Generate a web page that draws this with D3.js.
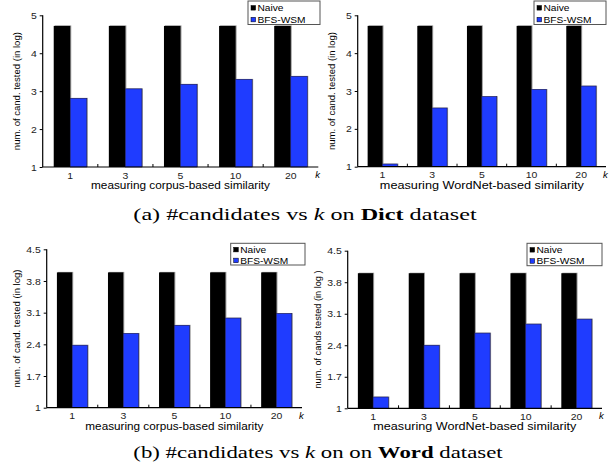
<!DOCTYPE html>
<html>
<head>
<meta charset="utf-8">
<script src="https://cdn.jsdelivr.net/npm/d3@7"></script>
<style>
  body { margin: 0; background: #fff; }
  svg { display: block; }
</style>
</head>
<body>
<div id="svg"></div>
<script>
// k values on the x axis
const kLabels = ['1', '3', '5', '10', '20']
const seriesNames = ['Naive', 'BFS-WSM']

// Dict dataset (log of number of candidates tested)
const dictCorpusNaive = [4.72, 4.72, 4.72, 4.72, 4.72]
const dictCorpusBfs = [2.81, 3.06, 3.18, 3.31, 3.39]
const dictWordnetNaive = [4.72, 4.72, 4.72, 4.72, 4.72]
const dictWordnetBfs = [1.07, 2.55, 2.85, 3.04, 3.13]

// Word dataset
const wordCorpusNaive = [3.99, 3.99, 3.99, 3.99, 3.99]
const wordCorpusBfs = [2.38, 2.64, 2.82, 2.98, 3.08]
const wordWordnetNaive = [4.0, 4.0, 4.0, 4.0, 4.0]
const wordWordnetBfs = [1.25, 2.40, 2.67, 2.87, 2.98]

// y axis ticks
const dictTicks = [1, 2, 3, 4, 5]
const wordTicks = [1, 1.7, 2.4, 3.1, 3.8, 4.5]

const colors = ['#000000', '#1f3cff']
const sans = 'Liberation Sans, Arial, sans-serif'

const svg = d3.select('#svg')
  .append('svg')
    .attr('width', 616)
    .attr('height', 469)

// the original picture is a bit wider than tall, stretch text sideways
function stretch(sel, factor) {
  sel.each(function() {
    const w = this.getComputedTextLength()
    d3.select(this)
      .attr('textLength', w * factor)
      .attr('lengthAdjust', 'spacingAndGlyphs')
  })
}

// one entry per small chart
const panels = [
  {naive: dictCorpusNaive, bfs: dictCorpusBfs, ticks: dictTicks, ymax: 5,
   x0: 42.7, x1: 318.3, y0: 167, y1: 15.3, labelOff: 23, titleW: 179,
   title: 'measuring corpus-based similarity', ylabel: 'num. of cand. tested (in log)',
   legend: {x: 248, y: 1, w: 72, h: 23.5}},
  {naive: dictWordnetNaive, bfs: dictWordnetBfs, ticks: dictTicks, ymax: 5,
   x0: 357.7, x1: 606, y0: 166.7, y1: 15.3, labelOff: 23, titleW: 204,
   title: 'measuring WordNet-based similarity', ylabel: 'num. of cand. tested (in log)',
   legend: {x: 534, y: 1, w: 72, h: 23.5}},
  {naive: wordCorpusNaive, bfs: wordCorpusBfs, ticks: wordTicks, ymax: 4.5,
   x0: 46.7, x1: 302, y0: 407.7, y1: 249.3, labelOff: 27, titleW: 178,
   title: 'measuring corpus-based similarity', ylabel: 'num. of cand. tested (in log)',
   legend: {x: 230.7, y: 243.3, w: 74.3, h: 21.7}},
  {naive: wordWordnetNaive, bfs: wordWordnetBfs, ticks: wordTicks, ymax: 4.5,
   x0: 347.7, x1: 602, y0: 408.3, y1: 250.7, labelOff: 27, titleW: 203,
   title: 'measuring WordNet-based similarity', ylabel: 'num. of cands tested (in log )',
   legend: {x: 527, y: 243.3, w: 75, h: 22.4}}
]

panels.forEach(p => {
  const g = svg.append('g')

  const x = d3.scaleBand()
    .domain(kLabels)
    .range([p.x0, p.x1])
    .paddingInner(0.4)
    .paddingOuter(0.2)

  const xs = d3.scaleBand()
    .domain(seriesNames)
    .range([0, x.bandwidth()])

  const y = d3.scaleLinear()
    .domain([1, p.ymax])
    .range([p.y0, p.y1])

  const rows = kLabels.map((k, i) => ({k: k, vals: [p.naive[i], p.bfs[i]]}))

  // bars, with a thin grey shadow on the right
  const grp = g.append('g')
    .selectAll('g')
    .data(rows)
    .enter()
    .append('g')
      .attr('transform', d => `translate(${x(d.k)},0)`)

  grp.selectAll('rect.shadow')
    .data(d => d.vals)
    .enter()
    .append('rect')
      .attr('class', 'shadow')
      .attr('x', (d, i) => xs(seriesNames[i]) + 1)
      .attr('y', d => y(d) - 0.5)
      .attr('width', xs.bandwidth())
      .attr('height', d => y(1) - y(d) + 0.5)
      .style('fill', '#9a9a9a')

  grp.selectAll('rect.bar')
    .data(d => d.vals)
    .enter()
    .append('rect')
      .attr('class', 'bar')
      .attr('x', (d, i) => xs(seriesNames[i]))
      .attr('y', d => y(d))
      .attr('width', xs.bandwidth())
      .attr('height', d => y(1) - y(d))
      .style('fill', (d, i) => colors[i])
      .style('stroke', (d, i) => i == 1 ? '#1a1a60' : 'none')
      .style('stroke-width', 0.6)

  // y axis
  const leftAxis = d3.axisLeft(y)
    .tickValues(p.ticks)
    .tickSize(3)
    .tickPadding(3)
    .tickFormat(d => d3.format('')(d))

  const ya = g.append('g')
    .attr('transform', `translate(${p.x0}, 0)`)
    .call(leftAxis)
  ya.select('.domain').attr('d', `M0,${p.y0}V${p.y1}`)

  // x axis: labels only, small ticks at group boundaries
  const bottomAxis = d3.axisBottom(x).tickSize(0).tickPadding(5)
  const xa = g.append('g')
    .attr('transform', `translate(0, ${p.y0})`)
    .call(bottomAxis)
  xa.select('.domain').attr('d', `M${p.x0},0H${p.x1}`)

  g.append('g')
    .selectAll('line')
    .data(kLabels.slice(1))
    .enter()
    .append('line')
      .attr('x1', d => x(d) - x.step() * x.paddingInner() / 2)
      .attr('x2', d => x(d) - x.step() * x.paddingInner() / 2)
      .attr('y1', p.y0)
      .attr('y2', p.y0 - 3)
      .style('stroke', '#000')

  g.selectAll('.domain').style('stroke', '#000').style('stroke-width', 1.2)
  g.selectAll('.tick text')
    .style('font-family', sans)
    .style('font-size', '9.5px')
    .style('fill', '#222')
    .call(stretch, 1.1)

  g.append('text')
    .attr('x', p.x1 - 3)
    .attr('y', p.y0 + 11)
    .style('font-family', sans)
    .style('font-style', 'italic')
    .style('font-size', '9.5px')
    .text('k')

  const t = g.append('text')
    .attr('x', (p.x0 + p.x1) / 2)
    .attr('y', p.y0 + 22)
    .attr('text-anchor', 'middle')
    .style('font-family', sans)
    .style('font-size', '10px')
    .text(p.title)
  t.attr('textLength', p.titleW).attr('lengthAdjust', 'spacingAndGlyphs')

  g.append('text')
    .attr('transform', `translate(${p.x0 - p.labelOff}, ${(p.y0 + p.y1) / 2}) rotate(-90)`)
    .attr('text-anchor', 'middle')
    .style('font-family', sans)
    .style('font-size', '9.5px')
    .attr('textLength', 118)
    .attr('lengthAdjust', 'spacingAndGlyphs')
    .text(p.ylabel)

  // legend
  const lg = svg.append('g')
    .attr('transform', `translate(${p.legend.x}, ${p.legend.y})`)
  lg.append('rect')
    .attr('width', p.legend.w)
    .attr('height', p.legend.h)
    .style('fill', '#fff')
    .style('stroke', '#555')
    .style('stroke-width', 1)
  seriesNames.forEach((s, i) => {
    const cy = p.legend.h * (0.29 + 0.5 * i)
    lg.append('rect')
      .attr('x', 3)
      .attr('y', cy - 2.3)
      .attr('width', 4.6)
      .attr('height', 4.6)
      .style('fill', colors[i])
      .style('stroke', '#000')
      .style('stroke-width', 0.5)
    lg.append('text')
      .attr('x', 9.5)
      .attr('y', cy + 3.2)
      .style('font-family', sans)
      .style('font-size', '9px')
      .text(s)
      .call(stretch, 1.13)
  })
})

// captions, stretched sideways to the original width
function caption(cx, cy, width, parts) {
  const g = svg.append('g')
  const txt = g.append('text')
    .attr('text-anchor', 'middle')
    .style('font-family', 'Liberation Serif, Times New Roman, serif')
    .style('font-size', '17px')
  parts.forEach(pt => {
    const ts = txt.append('tspan').text(pt[0])
    if (pt[1] == 'i') ts.style('font-style', 'italic')
    if (pt[1] == 'b') ts.style('font-weight', 'bold')
  })
  const w = txt.node().getBBox().width
  g.attr('transform', `translate(${cx}, ${cy}) scale(${width / w}, 1)`)
}

caption(305, 220, 344, [['(a) #candidates vs '], ['k', 'i'], [' on '], ['Dict', 'b'], [' dataset']])
caption(318, 458, 370, [['(b) #candidates vs '], ['k', 'i'], [' on on '], ['Word', 'b'], [' dataset']])
</script>
</body>
</html>
